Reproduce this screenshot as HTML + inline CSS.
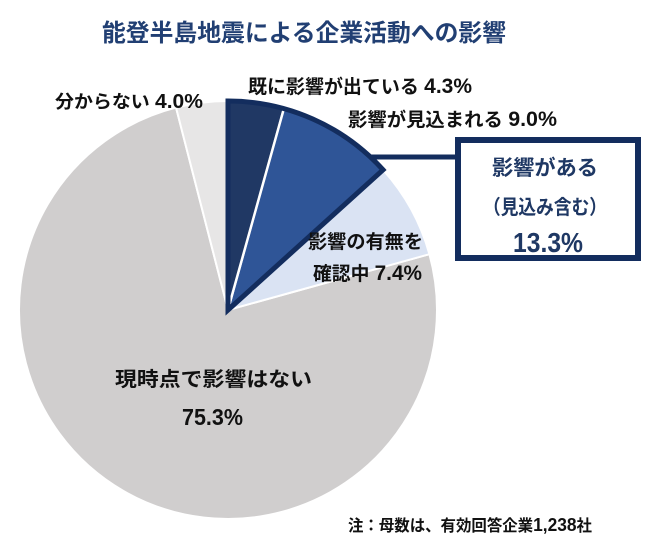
<!DOCTYPE html>
<html>
<head>
<meta charset="utf-8">
<style>
  html,body{margin:0;padding:0;background:#fff;}
  body{width:650px;height:557px;overflow:hidden;}
  svg{display:block;}
  text{font-family:"Liberation Sans","Noto Sans CJK JP",sans-serif;font-weight:bold;}
</style>
</head>
<body>
<svg width="650" height="557" viewBox="0 0 650 557" xmlns="http://www.w3.org/2000/svg">
  <rect x="0" y="0" width="650" height="557" fill="#ffffff"/>

  <!-- Title -->
  <text x="102" y="41" font-size="24" fill="#213f73" textLength="404" lengthAdjust="spacingAndGlyphs">能登半島地震による企業活動への影響</text>

  <!-- Pie slices -->
  <g stroke="#ffffff" stroke-width="2" stroke-linejoin="round">
    <path d="M228,310 L429.41,254.22 A209,209 0 1 1 176.02,107.56 Z" fill="#d0cece"/>
    <path d="M228,310 L176.02,107.56 A209,209 0 0 1 228,101 Z" fill="#e7e6e6"/>
    <path d="M228,310 L383.04,169.84 A209,209 0 0 1 429.41,254.22 Z" fill="#dae3f3"/>
    <path d="M228,310 L283.78,108.59 A209,209 0 0 1 383.04,169.84 Z" fill="#2f5597"/>
    <path d="M228,310 L228,101 A209,209 0 0 1 283.78,108.59 Z" fill="#203864"/>
  </g>
  <line x1="229" y1="306" x2="283.5" y2="110" stroke="#ffffff" stroke-width="2.5"/>
  <path d="M228,310 L228,101 A209,209 0 0 1 383.04,169.84 Z" fill="none" stroke="#132d5e" stroke-width="5" stroke-linejoin="miter"/>

  <!-- connector line -->
  <line x1="370" y1="157" x2="458" y2="157" stroke="#132d5e" stroke-width="5"/>

  <!-- Callout box -->
  <rect x="458" y="140" width="180" height="118" fill="#ffffff" stroke="#132d5e" stroke-width="6"/>
  <text x="492" y="175" font-size="21" fill="#1f3864" textLength="106" lengthAdjust="spacingAndGlyphs">影響がある</text>
  <text x="483" y="214" font-size="20" fill="#1f3864" textLength="124" lengthAdjust="spacingAndGlyphs">（見込み含む）</text>
  <text x="513" y="252" font-size="28" fill="#1f3864" textLength="70" lengthAdjust="spacingAndGlyphs">13.3%</text>

  <!-- Labels -->
  <g fill="#111111">
    <text x="55" y="108" font-size="18" textLength="148" lengthAdjust="spacingAndGlyphs">分からない <tspan font-size="20">4.0%</tspan></text>
    <text x="248" y="93" font-size="19" textLength="224" lengthAdjust="spacingAndGlyphs">既に影響が出ている <tspan font-size="21">4.3%</tspan></text>
    <text x="348" y="126" font-size="19" textLength="209" lengthAdjust="spacingAndGlyphs">影響が見込まれる <tspan font-size="21">9.0%</tspan></text>
    <text x="308" y="248" font-size="19" textLength="115" lengthAdjust="spacingAndGlyphs">影響の有無を</text>
    <text x="313" y="280" font-size="19" textLength="109" lengthAdjust="spacingAndGlyphs">確認中 <tspan font-size="21">7.4%</tspan></text>
    <text x="115" y="386" font-size="20" textLength="197" lengthAdjust="spacingAndGlyphs">現時点で影響はない</text>
    <text x="182" y="425" font-size="23" textLength="61" lengthAdjust="spacingAndGlyphs">75.3%</text>
    <text x="348" y="531" font-size="16" textLength="244" lengthAdjust="spacingAndGlyphs">注：母数は、有効回答企業<tspan font-size="18">1,238</tspan>社</text>
  </g>
</svg>
</body>
</html>
